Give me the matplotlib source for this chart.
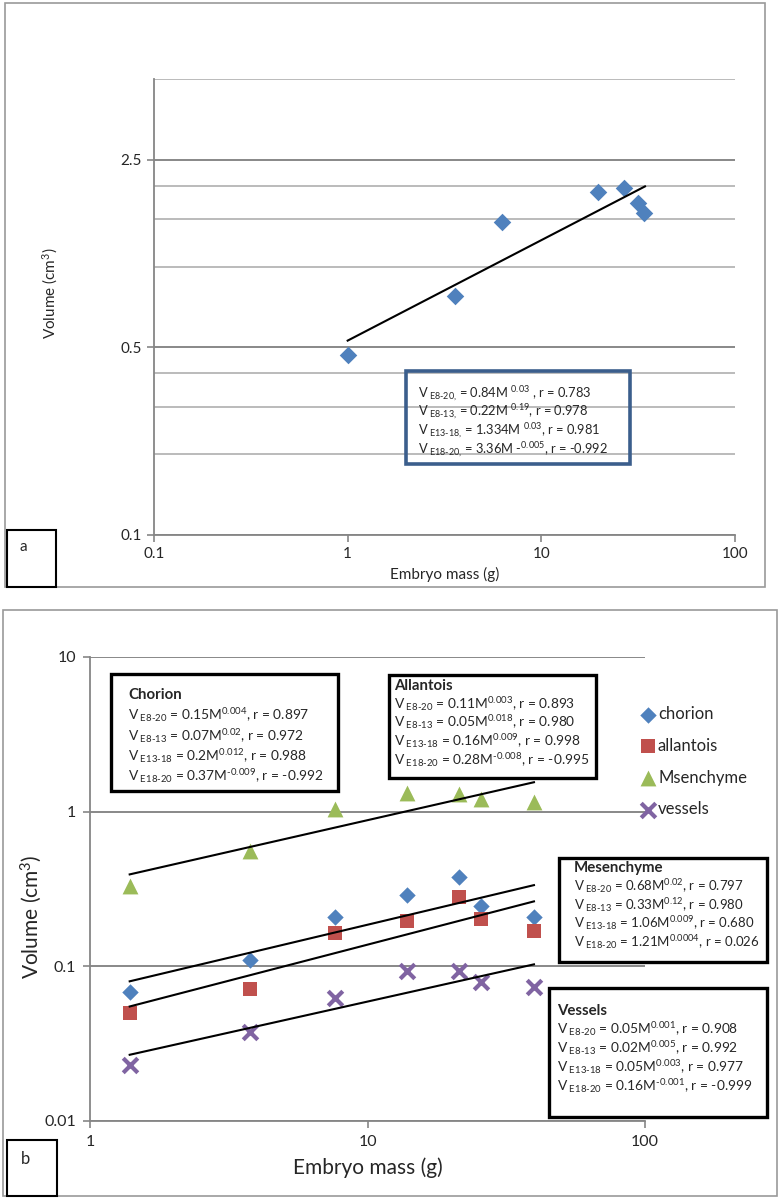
import numpy as np
import matplotlib
matplotlib.use("Agg")
import matplotlib.pyplot as plt
from matplotlib.patches import Rectangle
from matplotlib.ticker import NullFormatter, FixedLocator

plt.rcParams['font.family'] = ['Lato', 'DejaVu Sans']
plt.rcParams['mathtext.fontset'] = 'custom'
plt.rcParams['mathtext.rm'] = 'Lato'
plt.rcParams['mathtext.it'] = 'Lato:italic'
plt.rcParams['mathtext.bf'] = 'Lato:bold'

# ---- panel a data (whole embryo volume) ----
mass_a = [1.0, 3.6, 6.3, 19.5, 26.6, 31.4, 33.9]
vol_a = [0.47, 0.775, 1.46, 1.89, 1.97, 1.72, 1.58]
trend_a_x = [1.0, 34.3]
trend_a_y = [0.53, 1.99]
yticks_a = [0.1, 0.5, 2.5]
yminor_a = [0.2, 0.3, 0.4, 1.0, 1.5, 2.0, 5.0]
xticks_a = [0.1, 1, 10, 100]
eq_a = [r"V$_{\text{ E8-20,}}$ = 0.84M $^{\text{0.03}}$ , r = 0.783",
        r"V$_{\text{ E8-13,}}$ = 0.22M $^{\text{0.19}}$, r = 0.978",
        r"V$_{\text{ E13-18,}}$ = 1.334M $^{\text{0.03}}$, r = 0.981",
        r"V$_{\text{ E18-20,}}$ = 3.36M -$^{\text{0.005}}$, r = -0.992"]

# ---- panel b data (membranes) ----
mass_b = [1.39, 3.76, 7.64, 13.9, 21.3, 25.6, 39.8]
chorion = [0.068, 0.110, 0.209, 0.291, 0.377, 0.245, 0.208]
allantois = [0.050, 0.071, 0.164, 0.196, 0.279, 0.201, 0.168]
mesenchyme = [0.330, 0.557, 1.04, 1.32, 1.30, 1.21, 1.15]
vessels = [0.0231, 0.0375, 0.062, 0.0937, 0.093, 0.0794, 0.0731]
trend_b_x = [1.39, 39.8]
trend_chorion = [0.080, 0.335]
trend_allantois = [0.055, 0.263]
trend_mesenchyme = [0.393, 1.55]
trend_vessels = [0.0268, 0.103]
yticks_b = [0.01, 0.1, 1, 10]
xticks_b = [1, 10, 100]

eq_chorion = [r"V$_{\text{ E8-20}}$ = 0.15M$^{\text{0.004}}$, r = 0.897",
              r"V$_{\text{ E8-13}}$ = 0.07M$^{\text{0.02}}$, r = 0.972",
              r"V$_{\text{ E13-18}}$ = 0.2M$^{\text{0.012}}$, r = 0.988",
              r"V$_{\text{ E18-20}}$ = 0.37M$^{\text{-0.009}}$, r = -0.992"]
eq_allantois = [r"V$_{\text{ E8-20}}$ = 0.11M$^{\text{0.003}}$, r = 0.893",
                r"V$_{\text{ E8-13}}$ = 0.05M$^{\text{0.018}}$, r = 0.980",
                r"V$_{\text{ E13-18}}$ = 0.16M$^{\text{0.009}}$, r = 0.998",
                r"V$_{\text{ E18-20}}$ = 0.28M$^{\text{-0.008}}$, r = -0.995"]
eq_mesenchyme = [r"V$_{\text{ E8-20}}$ = 0.68M$^{\text{0.02}}$, r = 0.797",
                 r"V$_{\text{ E8-13}}$ = 0.33M$^{\text{0.12}}$, r = 0.980",
                 r"V$_{\text{ E13-18}}$ = 1.06M$^{\text{0.009}}$, r = 0.680",
                 r"V$_{\text{ E18-20}}$ = 1.21M$^{\text{0.0004}}$, r = 0.026"]
eq_vessels = [r"V$_{\text{ E8-20}}$ = 0.05M$^{\text{0.001}}$, r = 0.908",
              r"V$_{\text{ E8-13}}$ = 0.02M$^{\text{0.005}}$, r = 0.992",
              r"V$_{\text{ E13-18}}$ = 0.05M$^{\text{0.003}}$, r = 0.977",
              r"V$_{\text{ E18-20}}$ = 0.16M$^{\text{-0.001}}$, r = -0.999"]

W, H = 779, 1200
fig = plt.figure(figsize=(W / 100, H / 100), dpi=100)

def rect(x0, y0, x1, y1):
    return [x0 / W, 1 - y1 / H, (x1 - x0) / W, (y1 - y0) / H]

def frame(x0, y0, x1, y1, color, lw, fill=False, z=5):
    fig.add_artist(Rectangle((x0 / W, 1 - y1 / H), (x1 - x0) / W, (y1 - y0) / H,
                             transform=fig.transFigure, fill=fill, facecolor='white',
                             edgecolor=color, lw=lw, zorder=z))

def put(x, y, s, **kw):
    fig.text(x / W, 1 - y / H, s, va='center', ha='left', zorder=10, **kw)

grey = '#868686'
txt = '#262626'

# outer panel frames
frame(5, 3, 765, 587, '#9a9a9a', 1.2)
frame(3, 610, 777, 1196, '#9a9a9a', 1.2)

# ================= panel a =================
ax = fig.add_axes(rect(154, 79, 735, 535))
ax.set_xscale('log')
ax.set_yscale('log')
ax.set_xlim(0.1, 100)
ax.set_ylim(0.1, 5.0)
ax.yaxis.set_major_locator(FixedLocator(yticks_a))
ax.set_yticklabels([str(v) for v in yticks_a])
ax.yaxis.set_minor_locator(FixedLocator(yminor_a))
ax.yaxis.set_minor_formatter(NullFormatter())
ax.xaxis.set_major_locator(FixedLocator(xticks_a))
ax.set_xticklabels([str(v) for v in xticks_a])
ax.xaxis.set_minor_locator(FixedLocator([]))
ax.grid(True, which='major', axis='y', color='#7f7f7f', lw=1.3)
ax.grid(True, which='minor', axis='y', color='#b5b5b5', lw=1.3)
ax.tick_params(axis='y', which='minor', length=0)
ax.tick_params(which='major', direction='out', length=5, color=grey, width=1.2,
               labelsize=11, labelcolor=txt, pad=4)
for s in ['top', 'right']:
    ax.spines[s].set_visible(False)
for s in ['left', 'bottom']:
    ax.spines[s].set_color(grey)
    ax.spines[s].set_linewidth(1.3)
ax.set_axisbelow(True)
ax.scatter(mass_a, vol_a, marker='D', s=80, color='#4F81BD', zorder=3, linewidths=0)
ax.plot(trend_a_x, trend_a_y, color='black', lw=1.5, zorder=4)
ax.set_xlabel('Embryo mass (g)', fontsize=11, color=txt, labelpad=4)
ax.set_ylabel('Volume (cm$^3$)', fontsize=11, color=txt)
ax.yaxis.set_label_coords(-0.162, 0.53)

frame(406, 371, 630, 464, '#3B5E8C', 2.6)
for yy, s in zip([394, 412, 431, 450], eq_a):
    put(418, yy, s, fontsize=9.3, color=txt)

frame(7, 530, 56, 587, 'black', 1.5, fill=True)
put(20, 547, 'a', fontsize=11, color=txt)

# ================= panel b =================
bx = fig.add_axes(rect(90, 657, 645, 1121))
bx.set_xscale('log')
bx.set_yscale('log')
bx.set_xlim(1, 100)
bx.set_ylim(0.01, 10)
bx.yaxis.set_major_locator(FixedLocator(yticks_b))
bx.set_yticklabels([str(v) for v in yticks_b])
bx.yaxis.set_minor_locator(FixedLocator([]))
bx.xaxis.set_major_locator(FixedLocator(xticks_b))
bx.set_xticklabels([str(v) for v in xticks_b])
bx.xaxis.set_minor_locator(FixedLocator([]))
bx.grid(True, which='major', axis='y', color='#7f7f7f', lw=1.3)
bx.tick_params(which='major', direction='out', length=5, color=grey, width=1.2,
               labelsize=11.5, labelcolor=txt, pad=5)
for s in ['top', 'right']:
    bx.spines[s].set_visible(False)
for s in ['left', 'bottom']:
    bx.spines[s].set_color(grey)
    bx.spines[s].set_linewidth(1.3)
bx.set_axisbelow(True)

bx.scatter(mass_b, chorion, marker='D', s=70, color='#4F81BD', zorder=3, linewidths=0, label='chorion')
bx.scatter(mass_b, allantois, marker='s', s=110, color='#C0504D', zorder=3, linewidths=0, label='allantois')
bx.scatter(mass_b, mesenchyme, marker='^', s=130, color='#9BBB59', zorder=3, linewidths=0, label='Msenchyme')
bx.scatter(mass_b, vessels, marker='x', s=110, color='#8064A2', zorder=3, linewidths=3, label='vessels')
for ty in [trend_mesenchyme, trend_chorion, trend_allantois, trend_vessels]:
    bx.plot(trend_b_x, ty, color='black', lw=1.5, zorder=4)

bx.set_xlabel('Embryo mass (g)', fontsize=15, color=txt, labelpad=6)
bx.set_ylabel('Volume (cm$^3$)', fontsize=15, color=txt)
bx.yaxis.set_label_coords(-0.083, 0.44)

bx.legend(loc='upper left', bbox_to_anchor=(643 / W, 1 - 706 / H), bbox_transform=fig.transFigure,
          frameon=False, fontsize=12, handlelength=0.6, handletextpad=0.3, labelspacing=0.95,
          borderpad=0, borderaxespad=0, labelcolor=txt)

boxes = [((111, 674, 338, 791), 128, 695, [715, 736, 756, 776], 'Chorion', eq_chorion, 9.9),
         ((389, 675, 596, 778), 394, 686, [704, 722, 741, 760], 'Allantois', eq_allantois, 9.9),
         ((559, 858, 767, 962), 574, 868, [886, 905, 923, 942], 'Mesenchyme', eq_mesenchyme, 9.5),
         ((549, 988, 767, 1117), 557, 1011, [1029, 1048, 1067, 1086], 'Vessels', eq_vessels, 9.9)]
for (x0, y0, x1, y1), tx, ty, lines, title, eqs, fs in boxes:
    frame(x0, y0, x1, y1, 'black', 2.4, fill=True)
    put(tx, ty, title, fontsize=10.8, color=txt, fontweight='bold')
    for yy, s in zip(lines, eqs):
        put(tx, yy, s, fontsize=fs, color=txt)

frame(7, 1140, 57, 1196, 'black', 1.5, fill=True)
put(21, 1159, 'b', fontsize=12, color=txt)

fig.savefig('out.png', dpi=100)
